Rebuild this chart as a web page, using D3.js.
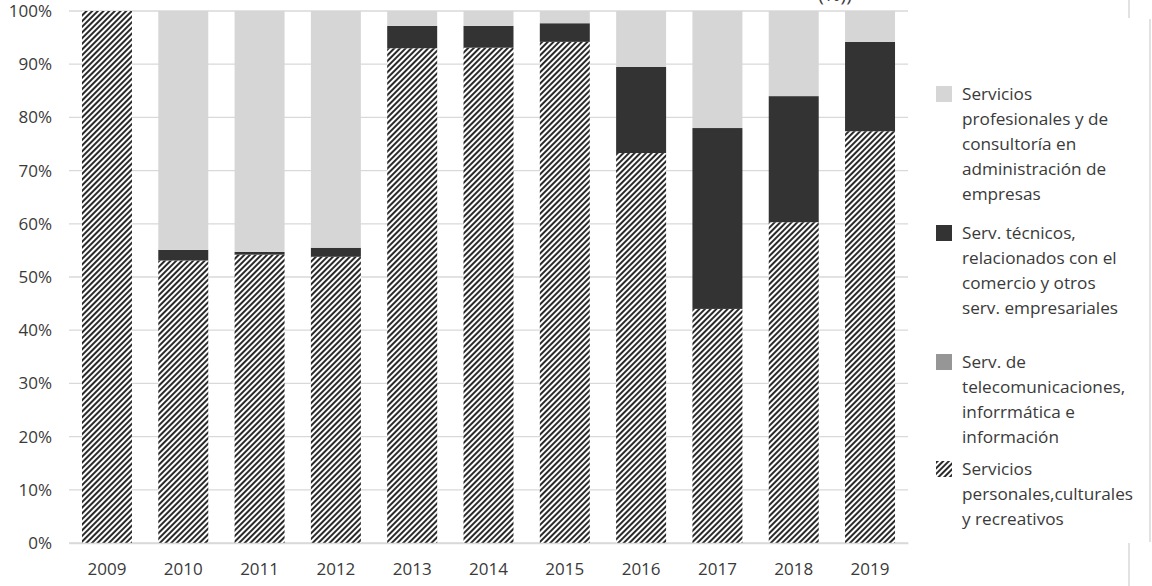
<!DOCTYPE html>
<html><head><meta charset="utf-8">
<script src="https://cdn.jsdelivr.net/npm/d3@7"></script>
<style>body{margin:0;background:#fff}svg{display:block}text{font-family:"Open Sans",sans-serif}</style>
</head><body><svg id="c" width="1152" height="586"></svg>
<script>
const years = ["2009","2010","2011","2012","2013","2014","2015","2016","2017","2018","2019"];
// stacked bottom to top
const personales = [100, 53.1, 54.2, 53.8, 93.0, 93.1, 94.2, 73.3, 44.0, 60.3, 77.4];
const telecom    = [0, 0, 0, 0, 0, 0, 0, 0, 0, 0, 0];
const tecnicos   = [0, 2.0, 0.5, 1.7, 4.2, 4.1, 3.5, 16.2, 34.0, 23.7, 16.8];
const profesionales = personales.map((v,i)=>100 - v - telecom[i] - tecnicos[i]);
const yTicks = [0,10,20,30,40,50,60,70,80,90,100];
const legendLines = [
  ["Servicios","profesionales y de","consultoría en","administración de","empresas"],
  ["Serv. técnicos,","relacionados con el","comercio y otros","serv. empresariales"],
  ["Serv. de","telecomunicaciones,","inforrmática e","información"],
  ["Servicios","personales,culturales","y recreativos"]
];

const svg = d3.select("#c");
const defs = svg.append("defs");
const pat = defs.append("pattern").attr("id","hatch").attr("patternUnits","userSpaceOnUse")
  .attr("width",4).attr("height",4).attr("patternTransform","rotate(45)");
pat.append("rect").attr("width",4).attr("height",4).attr("fill","#fff");
pat.append("rect").attr("x",0).attr("y",0).attr("width",2).attr("height",4).attr("fill","#2a2a2a");

const fills = ["url(#hatch)","#969696","#333333","#d6d6d6"];
const x = d3.scaleBand().domain(years).range([69,908]).paddingInner(0.345).paddingOuter(0.17);
const y = d3.scaleLinear().domain([0,100]).range([543,11]);

svg.append("g").selectAll("line").data(yTicks).join("line")
  .attr("x1",69).attr("x2",908).attr("y1",d=>y(d)).attr("y2",d=>y(d))
  .attr("stroke","#d9d9d9").attr("stroke-width",1.3);

const data = years.map((yr,i)=>({year:yr, s0:personales[i], s1:telecom[i], s2:tecnicos[i], s3:profesionales[i]}));
const stack = d3.stack().keys(["s0","s1","s2","s3"])(data);
svg.append("g").selectAll("g").data(stack).join("g").attr("fill",(d,i)=>fills[i])
  .selectAll("rect").data(d=>d).join("rect")
  .attr("x",d=>x(d.data.year)).attr("width",x.bandwidth())
  .attr("y",d=>y(d[1])).attr("height",d=>Math.max(0,y(d[0])-y(d[1])));

const yAxis = d3.axisLeft(y).tickValues(yTicks).tickFormat(d=>d+"%").tickSize(0).tickPadding(17);
const gy = svg.append("g").attr("transform","translate(69,0)").call(yAxis);
gy.select(".domain").remove();
gy.selectAll("text").attr("font-size",17).attr("fill","#3a3a3a");
const xAxis = d3.axisBottom(x).tickSize(0).tickPadding(20);
const gx = svg.append("g").attr("transform","translate(0,543)").call(xAxis);
gx.select(".domain").attr("stroke","#d9d9d9").attr("stroke-width",1.3);
gx.selectAll("text").attr("font-size",17).attr("fill","#3a3a3a");

const lg = svg.append("g");
const starts = [94, 233, 362, 469];
const lfill = ["#d6d6d6","#333333","#969696","url(#hatch)"];
legendLines.forEach((lines,i)=>{
  lg.append("rect").attr("x",936).attr("y",starts[i]-8).attr("width",16).attr("height",16).attr("fill",lfill[i]);
  lines.forEach((t,j)=>{
    lg.append("text").attr("x",962).attr("y",starts[i]+j*25).attr("dy","0.35em")
      .attr("font-size",17.2).attr("fill","#3a3a3a").text(t);
  });
});

svg.append("text").attr("x",818).attr("y",1).attr("font-size",20).attr("fill","#404040").text("(%))");
const fl = [[1129,0,1129,18],[1150,19,1150,542],[1129,543,1129,586]];
svg.append("g").selectAll("line").data(fl).join("line")
  .attr("x1",d=>d[0]).attr("y1",d=>d[1]).attr("x2",d=>d[2]).attr("y2",d=>d[3])
  .attr("stroke","#d9d9d9").attr("stroke-width",1.5);
</script></body></html>
